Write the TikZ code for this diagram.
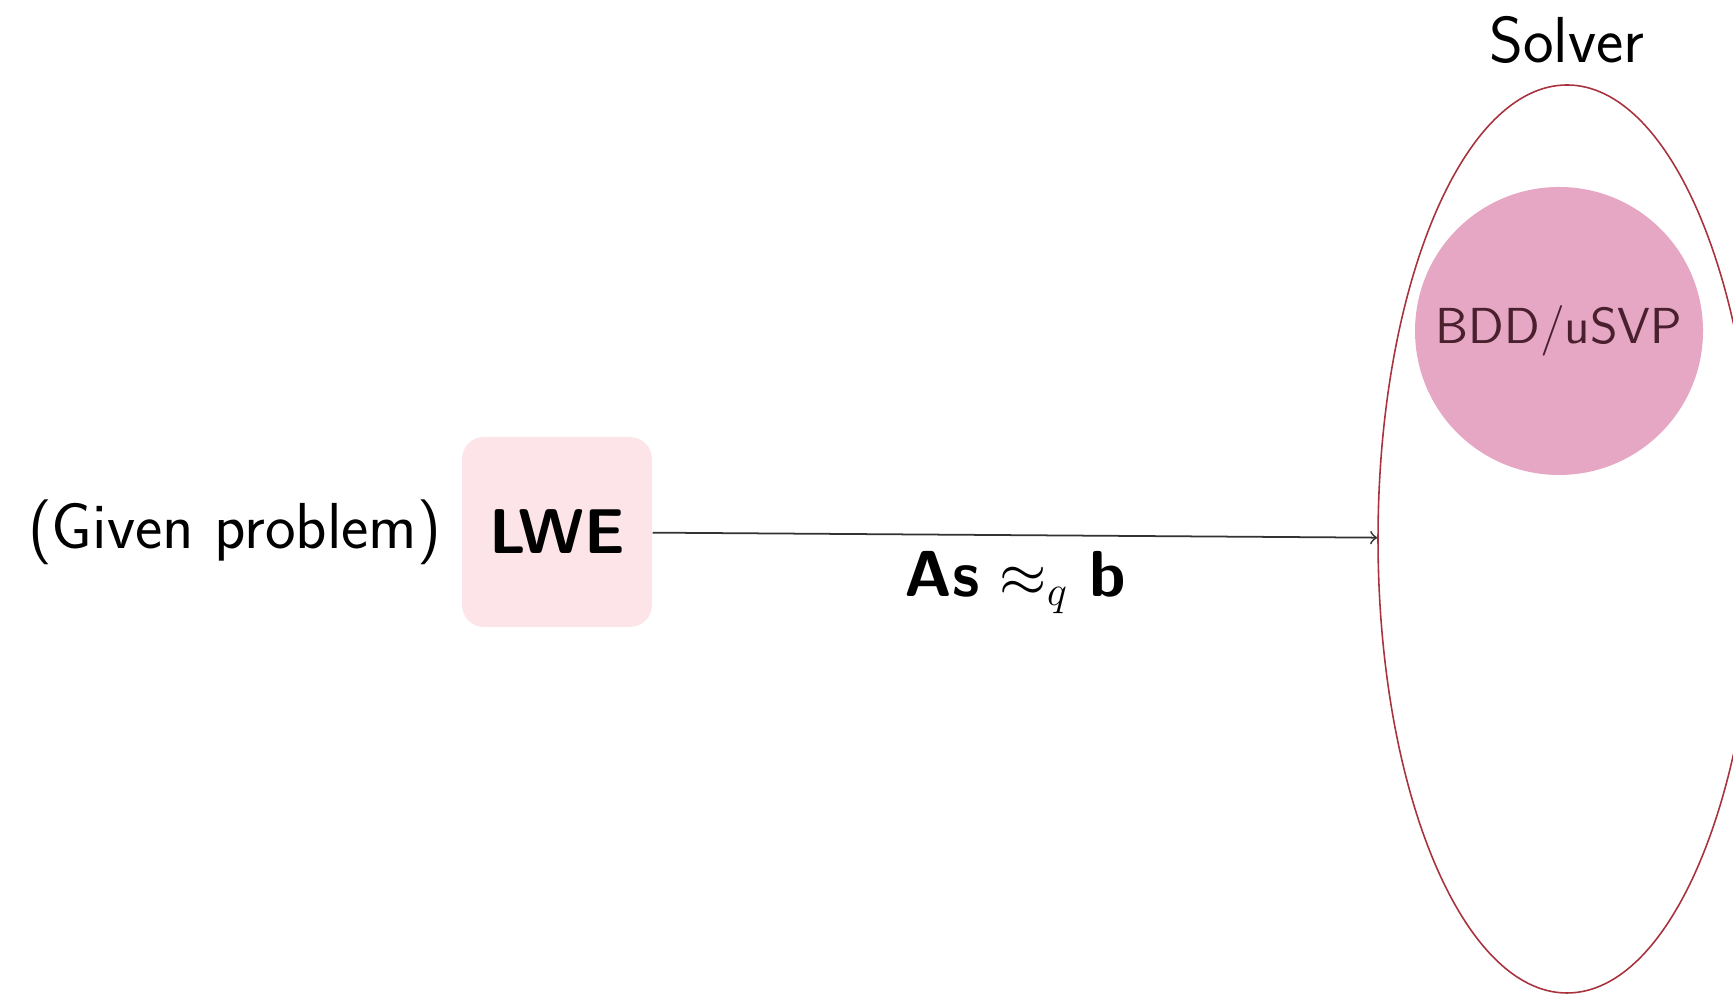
\documentclass[tikz,border=0pt]{standalone}
\usepackage{amsmath}
\usepackage{amssymb}
\usepackage{tikz}
\usetikzlibrary{shapes.geometric, arrows, positioning}

\definecolor{lwepink}{HTML}{FCE4E8}
\definecolor{bddpink}{HTML}{E5A7C3}
\definecolor{solverred}{HTML}{A8323E}
\definecolor{bddtext}{HTML}{4A1F2E}

\tikzset{
    problembox/.style={rectangle, rounded corners=0.22cm, fill=lwepink, minimum size=1.9cm,
        font=\fontsize{18}{22}\selectfont\sffamily\bfseries},
    solverset/.style={ellipse, draw=solverred, line width=0.45pt, minimum width=3.78cm,
        minimum height=9.08cm, inner sep=0pt},
    methodball/.style={circle, fill=bddpink, minimum size=2.88cm, text=bddtext,
        font=\fontsize{14.4}{17}\selectfont\sffamily},
    plain/.style={font=\fontsize{18.5}{22}\selectfont\sffamily}
}

\begin{document}
\begin{tikzpicture}
    \useasboundingbox (0,0) rectangle (17.33,9.97);

    % Left side: given problem
    \node[problembox] (lwe) at (5.57, 4.65) {LWE};
    \node[plain, left=0.08cm of lwe] (given) {(Given problem)};

    % Right side: solver set
    \node[solverset] (solver) at (15.67, 4.58) {};
    \node[plain, above=0.08cm of solver] (solvername) {Solver};
    \node[methodball] (bdd) at (15.59, 6.66) {BDD/uSVP};

    % Reduction arrow
    \draw[->, black!80, line width=0.5pt] (lwe) -- (solver)
        node[midway, below=1pt, plain, text=black] (eq) {\textsf{\bfseries As} $\approx_q$ \textsf{\bfseries b}};
\end{tikzpicture}
\end{document}
